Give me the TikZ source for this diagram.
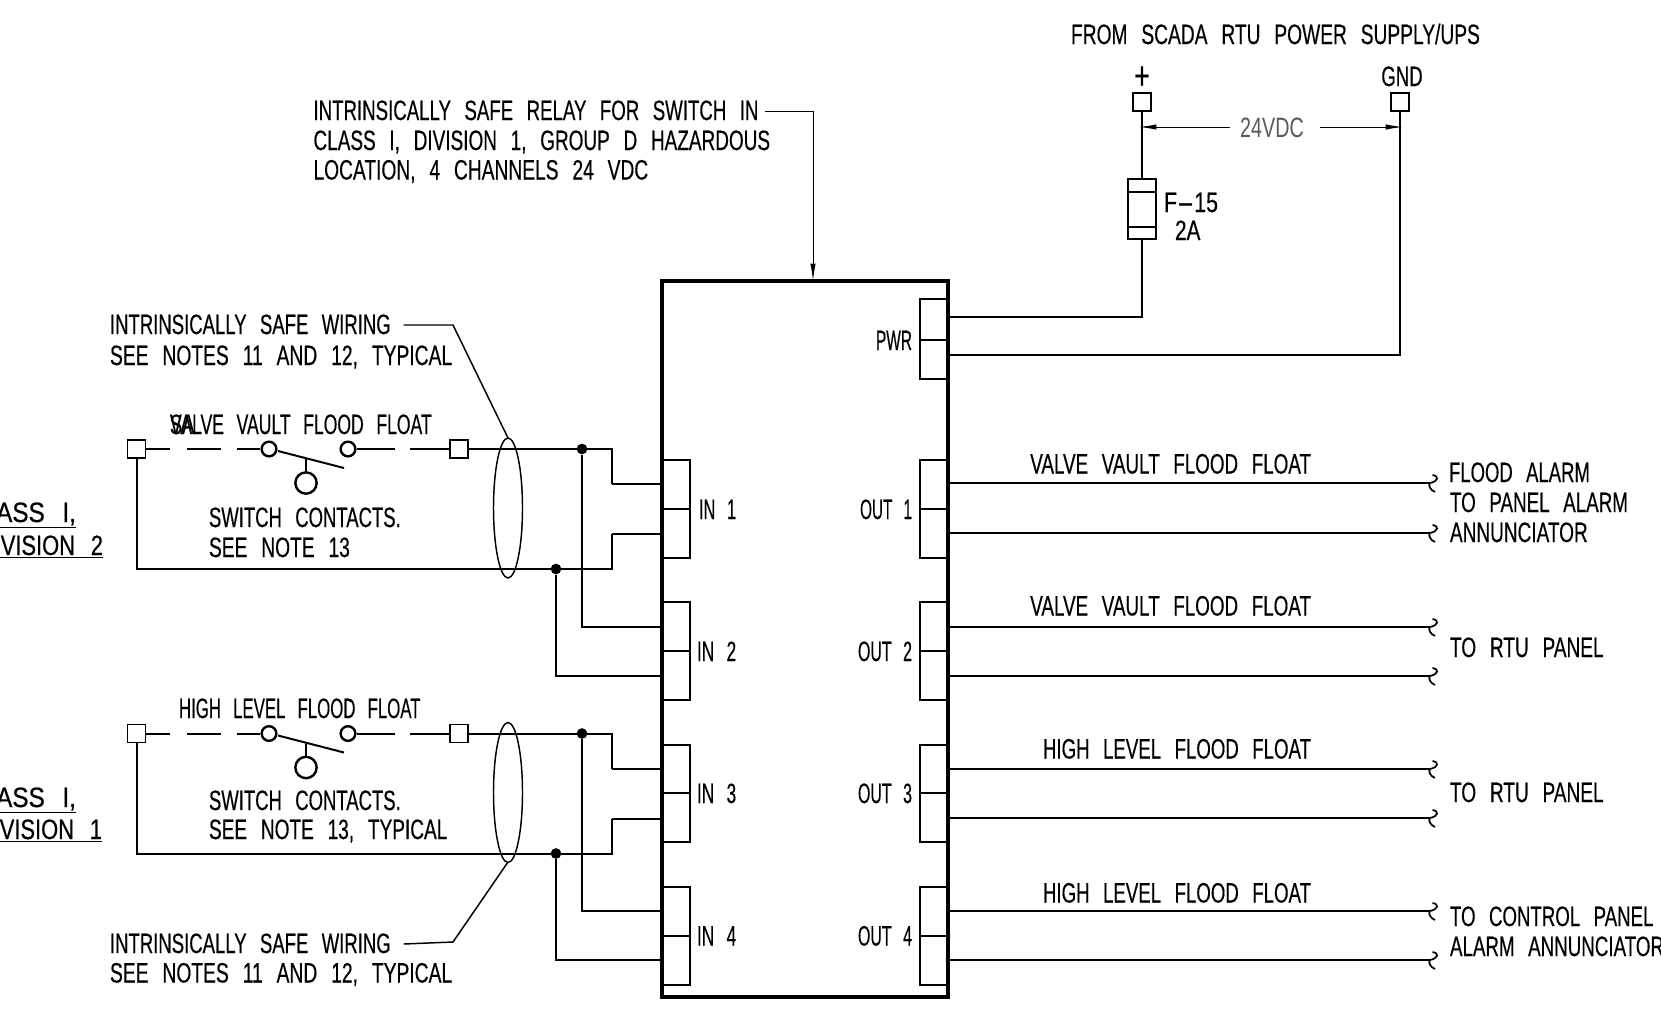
\documentclass[tikz,border=0pt]{standalone}
\usepackage{graphicx}
\usepackage{fontspec}
\setmainfont[FakeStretch=0.68,WordSpace=2.6,FakeBold=0.35]{Liberation Sans}
\newfontfamily\thinfont[FakeStretch=0.68,WordSpace=2.6]{Liberation Sans}
\usetikzlibrary{arrows.meta}
\tikzset{
  x=0.75pt,y=-0.75pt,
  wire/.style={line width=1.5pt,line join=miter},
  thin wire/.style={line width=1.1pt},
  heavy/.style={line width=1.9pt},
  dim/.style={line width=0.75pt},
  lab/.style={inner sep=0pt,outer sep=0pt,anchor=west,yshift=0.75pt,text height=15pt,text depth=0pt,font=\fontsize{21}{21}\selectfont},
  labr/.style={lab,anchor=east},
  labc/.style={lab,anchor=center},
  term/.style={draw,line width=1.1pt,fill=white,minimum width=13.5pt,minimum height=13.5pt,inner sep=0pt},
  contact/.style={circle,draw,line width=1.8pt,fill=white,minimum size=11pt,inner sep=0pt},
  actuator/.style={circle,draw,line width=1.8pt,fill=white,minimum size=16pt,inner sep=0pt},
  joint/.style={circle,fill=black,minimum size=8pt,inner sep=0pt},
  tip/.style={-{Latex[length=13pt,width=4pt]}},
}
% width given in pixels of the shrunk reference
\newcommand{\fw}[2]{\resizebox{0.7945\dimexpr #1pt\relax}{\height}{#2}}
\newcommand{\sqg}[1]{\draw[line width=1.3pt] (1432.5,#1-8) .. controls (1439,#1-7) and (1439,#1-2) .. (1430,#1) .. controls (1428,#1+2) and (1430,#1+7) .. (1435,#1+9);}
\begin{document}
\begin{tikzpicture}
\useasboundingbox (0,0) rectangle (1661,1015);
\clip (0,0) rectangle (1661,1015);
% main box
\node[draw,line width=2.3pt,outer sep=0pt,minimum width=214.5pt,minimum height=537pt,inner sep=0pt,anchor=north west] (relay) at (662,281) {};
% strips
\foreach \a/\m/\b in {460/509/558,602/651/700,745/793/842,887/936/985}{
  \draw[heavy] (662,\a) -- (690,\a) -- (690,\b) -- (662,\b);
  \draw[heavy] (662,\m) -- (690,\m);
  \draw[heavy] (948,\a) -- (920,\a) -- (920,\b) -- (948,\b);
  \draw[heavy] (948,\m) -- (920,\m);
}
\draw[heavy] (948,299) -- (920,299) -- (920,379) -- (948,379);
\draw[heavy] (948,340) -- (920,340);
% strip labels
\node[lab] (in1) at (699,510) {\fw{35}{IN 1}};
\node[lab] (in2) at (697,652) {\fw{37}{IN 2}};
\node[lab] (in3) at (697,794) {\fw{37}{IN 3}};
\node[lab] (in4) at (697,936.5) {\fw{37}{IN 4}};
\node[labr] (out1) at (912,510) {\fw{49}{OUT 1}};
\node[labr] (out2) at (912,652) {\fw{51}{OUT 2}};
\node[labr] (out3) at (912,794) {\fw{51}{OUT 3}};
\node[labr] (out4) at (912,936.5) {\fw{51}{OUT 4}};
\node[labr] (pwr) at (912,341) {\fw{34}{PWR}};
% field circuits
\foreach \t/\off in {a/0,b/284.5}{
\begin{scope}[yshift=-\off*0.75pt]
  \node[term] (\t L) at (136.5,449) {};
  \node[term] (\t R) at (459,449) {};
  \node[contact] (\t C) at (269,449) {};
  \node[contact] (\t D) at (348,449) {};
  \node[actuator] (\t A) at (306,483) {};
  \coordinate (\t B1) at (278,451);
  \coordinate (\t B2) at (344,468);
  \coordinate (\t S) at (306,459);
  \draw[wire] (\t B1) -- (\t B2);
  \draw[wire] (\t S) -- (\t A);
  \draw[wire] (\t L) -- (170,449) (187,449) -- (221,449) (237,449) -- (\t C)
              (\t D) -- (395,449) (410,449) -- (\t R);
  \node[joint] (\t J1) at (582,449) {};
  \node[joint] (\t J2) at (556,569) {};
  \draw[wire] (\t R) -- (612,449) -- (612,484);
  \draw[wire] (\t L) -- (136.5,569) -- (612,569) -- (612,534);
  \draw[thin wire] (508,508) ellipse [x radius=14.5,y radius=70];
\end{scope}
}
\draw[wire] (612,484) -- (662,484) (612,534) -- (662,534);
\draw[wire] (612,768.5) -- (662,768.5) (612,818.5) -- (662,818.5);
\draw[wire] (aJ1) -- (582,627) -- (662,627);
\draw[wire] (aJ2) -- (556,676) -- (662,676);
\draw[wire] (bJ1) -- (582,911) -- (662,911);
\draw[wire] (bJ2) -- (556,960) -- (662,960);
% circuit labels
\node[lab] (t1) at (170,425) {\fw{23}{SA}};
\node[lab] (t2) at (170,425) {\fw{247}{VALVE VAULT FLOOD FLOAT}};
\node[lab] (t3) at (209,518) {\fw{181}{SWITCH CONTACTS.}};
\node[lab] (t4) at (209,548) {\fw{133}{SEE NOTE 13}};
\node[lab] (t5) at (179,709) {\fw{228}{HIGH LEVEL FLOOD FLOAT}};
\node[lab] (t6) at (209,801) {\fw{181}{SWITCH CONTACTS.}};
\node[lab] (t7) at (209,830) {\fw{225}{SEE NOTE 13, TYPICAL}};
\node[labr] (c1) at (76,513) {\scalebox{1.28}[1]{\underline{CLASS I,}}};
\node[labr] (c2) at (103,546) {\scalebox{1.15}[1]{\underline{DIVISION 2}}};
\node[labr] (c3) at (76,798) {\scalebox{1.28}[1]{\underline{CLASS I,}}};
\node[labr] (c4) at (102,830) {\scalebox{1.15}[1]{\underline{DIVISION 1}}};
% leaders
\node[lab] (w1) at (110,325) {\fw{265}{INTRINSICALLY SAFE WIRING}};
\node[lab] (w2) at (110,356) {\fw{323}{SEE NOTES 11 AND 12, TYPICAL}};
\node[lab] (w3) at (110,944) {\fw{265}{INTRINSICALLY SAFE WIRING}};
\node[lab] (w4) at (110,973.5) {\fw{323}{SEE NOTES 11 AND 12, TYPICAL}};
\coordinate (e1) at (508,438);
\coordinate (e2) at (508,862);
\draw[thin wire] (w1.east) ++(13,1) -- (453,325) -- (e1);
\draw[thin wire] (w3.east) ++(13,1) -- (453,942) -- (e2);
\node[lab] (n1) at (313.5,111) {\fw{420}{INTRINSICALLY SAFE RELAY FOR SWITCH IN}};
\node[lab] (n2) at (313.5,141) {\fw{431}{CLASS I, DIVISION 1, GROUP D HAZARDOUS}};
\node[lab] (n3) at (313.5,170.5) {\fw{316}{LOCATION, 4 CHANNELS 24 VDC}};
\draw[dim,tip] (n1.east) ++(7,1) -- (813,111) -- (813,281);
% power
\node[lab] (from) at (1071,35) {\fw{386}{FROM SCADA RTU POWER SUPPLY/UPS}};
\node[labc] (plus) at (1142,80) {\scalebox{1.4}{+}};
\node[labc] (gndt) at (1402,77) {\fw{39}{GND}};
\node[term] (tp) at (1142,102) {};
\node[term] (tg) at (1400,102) {};
\node[draw,wire,fill=white,minimum width=21pt,minimum height=45pt,inner sep=0pt] (fuse) at (1142,209) {};
\draw[wire] (1128,192) -- (1156,192) (1128,227) -- (1156,227);
\draw[wire] (tp) -- (fuse);
\draw[wire] (fuse) -- (1142,317) -- (948,317);
\draw[wire] (tg) -- (1400,355) -- (948,355);
\node[lab] (f15) at (1164,203) {\fw{51}{F\scalebox{2.4}[1]{-}15}};
\node[lab] (f2a) at (1175,231) {\fw{24}{2A}};
\node[labc,text=black!65,font=\thinfont\fontsize{21}{21}\selectfont] (v24) at (1272,128) {\fw{60}{24VDC}};
\coordinate (dl) at (1139,127);
\coordinate (dr) at (1403,127);
\draw[dim,tip] (1230,127) -- (dl);
\draw[dim,tip] (1320,127) -- (dr);
% outputs
\foreach \y in {483,533,627,676,769,818,911,960}{
  \draw[wire] (948,\y) -- (1430,\y);
  \sqg{\y}
}
\node[labr] (o1) at (1311,464.5) {\fw{265}{VALVE VAULT FLOOD FLOAT}};
\node[labr] (o2) at (1311,606.5) {\fw{265}{VALVE VAULT FLOOD FLOAT}};
\node[labr] (o3) at (1311,749.5) {\fw{253}{HIGH LEVEL FLOOD FLOAT}};
\node[labr] (o4) at (1311,893.5) {\fw{253}{HIGH LEVEL FLOOD FLOAT}};
\node[lab] (d1) at (1449,473) {\fw{133}{FLOOD ALARM}};
\node[lab] (d2) at (1450,503) {\fw{168}{TO PANEL ALARM}};
\node[lab] (d3) at (1450,533) {\fw{130}{ANNUNCIATOR}};
\node[lab] (d4) at (1450,648) {\fw{145}{TO RTU PANEL}};
\node[lab] (d5) at (1450,793) {\fw{145}{TO RTU PANEL}};
\node[lab] (d6) at (1450,917) {\fw{192}{TO CONTROL PANEL}};
\node[lab] (d7) at (1450,947) {\fw{202}{ALARM ANNUNCIATOR}};
\end{tikzpicture}
\end{document}
